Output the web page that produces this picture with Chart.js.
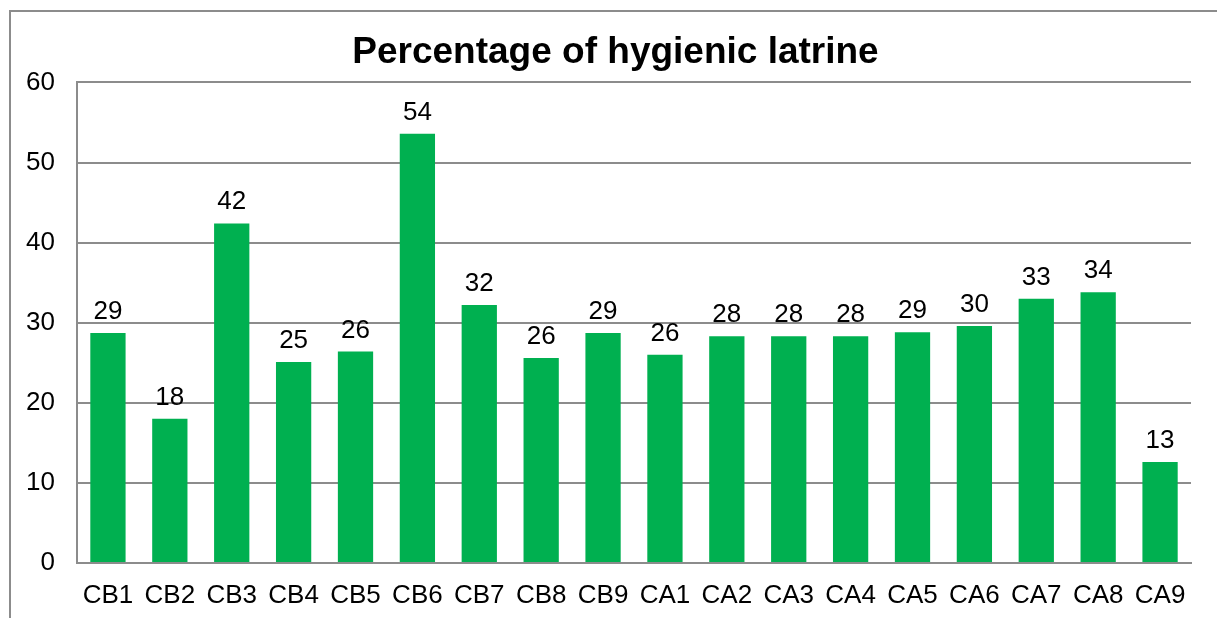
<!DOCTYPE html>
<html>
<head>
<meta charset="utf-8">
<script src="https://cdn.jsdelivr.net/npm/chart.js@4.4.1/dist/chart.umd.min.js"></script>
<style>
  html, body { margin: 0; padding: 0; background: #fff; }
  #wrap { position: relative; width: 1217px; height: 618px; overflow: hidden; }
  #frame { position: absolute; left: 9px; top: 10px; width: 1300px; height: 700px;
           border-left: 2px solid #8c8c8c; border-top: 2px solid #8c8c8c; }
  canvas { position: absolute; left: 0; top: 0; }
</style>
</head>
<body>
<div id="wrap">
  <div id="frame"></div>
  <canvas id="latrineChart" width="1217" height="618"></canvas>
</div>
<script>
const sites = ['CB1', 'CB2', 'CB3', 'CB4', 'CB5', 'CB6', 'CB7', 'CB8', 'CB9',
               'CA1', 'CA2', 'CA3', 'CA4', 'CA5', 'CA6', 'CA7', 'CA8', 'CA9'];
const hygienicPct = [28.7, 18.0, 42.4, 25.1, 26.4, 53.6, 32.2, 25.6, 28.7,
                     26.0, 28.3, 28.3, 28.3, 28.8, 29.6, 33.0, 33.8, 12.6];
const yTicks = [0, 10, 20, 30, 40, 50, 60];

const FONT = "'Liberation Sans', Arial, sans-serif";

// simple value labels on top of each bar
const barLabels = {
  id: 'barLabels',
  afterDatasetsDraw(chart) {
    const c = chart.ctx;
    const meta = chart.getDatasetMeta(0);
    c.save();
    c.font = '26px ' + FONT;
    c.fillStyle = '#000';
    c.textAlign = 'center';
    c.textBaseline = 'alphabetic';
    meta.data.forEach((bar, i) => {
      c.fillText(String(Math.round(hygienicPct[i])), bar.x, bar.y - 14);
    });
    c.restore();
  }
};

new Chart(document.getElementById('latrineChart'), {
  type: 'bar',
  data: {
    labels: sites,
    datasets: [{
      data: hygienicPct,
      backgroundColor: '#00b050',
      borderWidth: 0,
      barPercentage: 0.57,
      categoryPercentage: 1.0
    }]
  },
  options: {
    responsive: false,
    animation: false,
    layout: { padding: { left: 14, right: 0, top: 0, bottom: 0 } },
    plugins: {
      legend: { display: false },
      tooltip: { enabled: false },
      title: {
        display: true,
        text: 'Percentage of hygienic latrine',
        color: '#000',
        font: { family: FONT, size: 37, weight: 'bold' },
        padding: { top: 31, bottom: 7 }
      }
    },
    scales: {
      x: {
        grid: { display: false, drawTicks: false },
        border: { display: true, color: '#8c8c8c', width: 2 },
        ticks: {
          color: '#000',
          font: { family: FONT, size: 26 },
          padding: 17,
          maxRotation: 0,
          autoSkip: false
        },
        afterFit(scale) { scale.height = 55; }
      },
      y: {
        min: 0,
        max: 60,
        afterBuildTicks(scale) { scale.ticks = yTicks.map(v => ({ value: v })); },
        grid: { color: '#8c8c8c', lineWidth: 2, drawTicks: false },
        border: { display: true, color: '#8c8c8c', width: 2 },
        ticks: {
          color: '#000',
          font: { family: FONT, size: 26 },
          padding: 22
        },
        afterFit(scale) { scale.width = 63; }
      },
      // empty spacer on the right so the plot ends where the original does
      yRight: {
        position: 'right',
        min: 0,
        max: 60,
        grid: { display: false, drawTicks: false },
        border: { display: false },
        ticks: { display: false },
        afterFit(scale) { scale.width = 26; }
      }
    }
  },
  plugins: [barLabels]
});
</script>
</body>
</html>
